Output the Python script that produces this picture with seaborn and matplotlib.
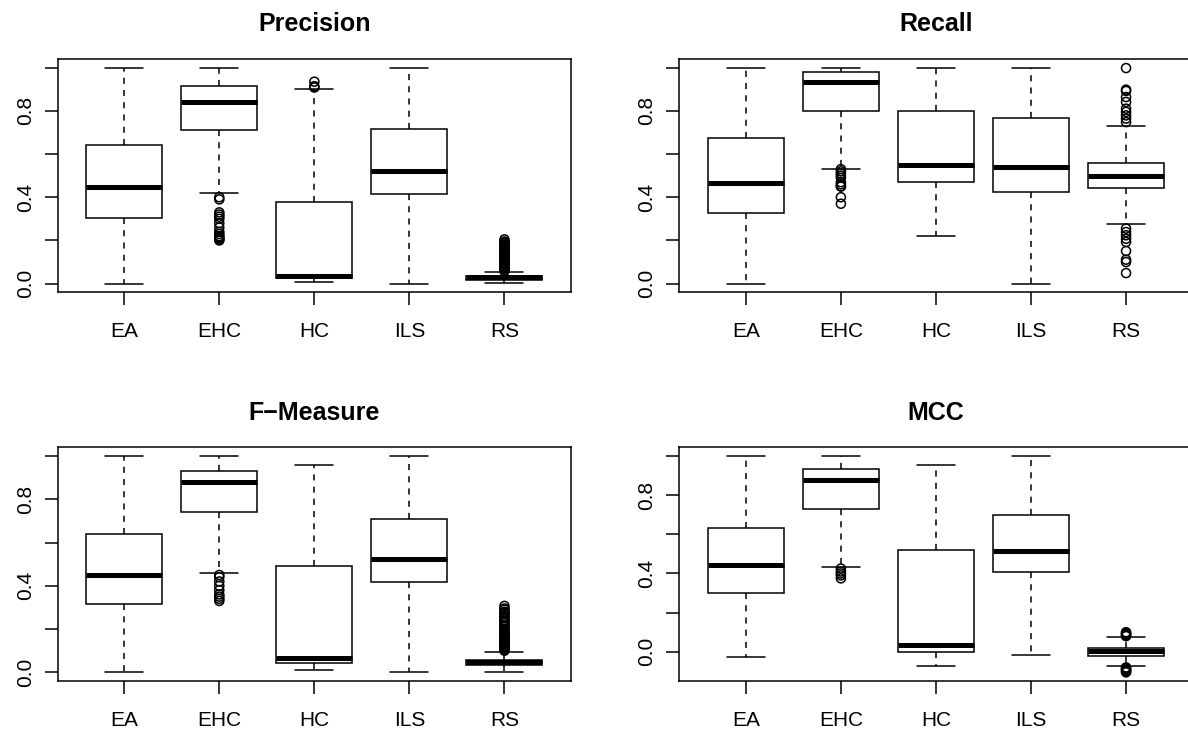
import numpy as np
import pandas as pd
import seaborn as sns
import matplotlib
matplotlib.use("Agg")
import matplotlib.pyplot as plt

# algorithms on the x axis
algos = ["EA", "EHC", "HC", "ILS", "RS"]

# five number summaries per algorithm: [lower whisker, Q1, median, Q3, upper whisker]
prec_stats = [[0.0, 0.305, 0.449, 0.640, 1.0],
              [0.421, 0.712, 0.840, 0.917, 1.0],
              [0.008, 0.025, 0.034, 0.377, 0.900],
              [0.0, 0.417, 0.522, 0.715, 1.0],
              [0.003, 0.018, 0.029, 0.037, 0.054]]
rec_stats = [[0.0, 0.327, 0.466, 0.676, 1.0],
             [0.532, 0.800, 0.934, 0.981, 1.0],
             [0.221, 0.471, 0.549, 0.800, 1.0],
             [0.0, 0.424, 0.540, 0.769, 1.0],
             [0.275, 0.443, 0.500, 0.559, 0.728]]
fm_stats = [[0.0, 0.318, 0.452, 0.639, 1.0],
            [0.457, 0.739, 0.881, 0.932, 1.0],
            [0.011, 0.043, 0.065, 0.491, 0.960],
            [0.0, 0.417, 0.526, 0.707, 1.0],
            [0.0, 0.034, 0.046, 0.059, 0.096]]
mcc_stats = [[-0.029, 0.299, 0.442, 0.633, 1.0],
             [0.432, 0.731, 0.878, 0.932, 1.0],
             [-0.071, -0.003, 0.034, 0.519, 0.952],
             [-0.014, 0.408, 0.517, 0.700, 1.0],
             [-0.075, -0.020, 0.003, 0.020, 0.075]]

# outliers
prec_out = {"EHC": [0.40, 0.39, 0.33, 0.32, 0.31, 0.30, 0.28, 0.26, 0.24, 0.23, 0.22, 0.215, 0.21, 0.205, 0.20],
            "HC": [0.935, 0.914, 0.908],
            "RS": [0.058, 0.063, 0.07, 0.075, 0.08, 0.086, 0.09, 0.095, 0.10, 0.106, 0.11, 0.115,
                   0.12, 0.125, 0.13, 0.136, 0.14, 0.145, 0.15, 0.156, 0.16, 0.165, 0.17,
                   0.175, 0.18, 0.186, 0.19, 0.195, 0.205]}
rec_out = {"EHC": [0.53, 0.52, 0.51, 0.50, 0.49, 0.47, 0.46, 0.45, 0.45, 0.40, 0.37],
           "RS": [0.998, 0.898, 0.892, 0.864, 0.841, 0.81, 0.795, 0.779, 0.764, 0.748,
                  0.255, 0.239, 0.224, 0.208, 0.193, 0.151, 0.111, 0.10, 0.049]}
fm_out = {"EHC": [0.45, 0.44, 0.42, 0.40, 0.38, 0.36, 0.35, 0.34, 0.33],
          "RS": [0.10, 0.105, 0.11, 0.116, 0.12, 0.125, 0.13, 0.136, 0.14, 0.145, 0.15,
                 0.156, 0.16, 0.165, 0.17, 0.176, 0.18, 0.185, 0.19, 0.196, 0.20, 0.21,
                 0.215, 0.22, 0.23, 0.235, 0.24, 0.25, 0.255, 0.26, 0.27, 0.275, 0.28,
                 0.29, 0.295, 0.307]}
mcc_out = {"EHC": [0.425, 0.41, 0.40, 0.39, 0.375],
           "RS": [0.08, 0.085, 0.09, 0.095, 0.10,
                  -0.08, -0.085, -0.09, -0.095, -0.10, -0.105]}

panels = [("Precision", prec_stats, prec_out),
          ("Recall", rec_stats, rec_out),
          ("F\u2212Measure", fm_stats, fm_out),
          ("MCC", mcc_stats, mcc_out)]

sns.set_theme(style="ticks")
plt.rcParams["font.family"] = ["Liberation Sans", "DejaVu Sans"]

W, H = 1188, 731
fig = plt.figure(figsize=(W / 100, H / 100), dpi=100)

# frame boxes in pixels (left, top, right, bottom)
frames = [(57.7, 59, 571, 292.3), (679.3, 59, 1192.6, 292.3),
          (57.7, 447.3, 571, 681), (679.3, 447.3, 1192.6, 681)]

for (title, stats, outs), (l, t, r, b) in zip(panels, frames):
    ax = fig.add_axes([l / W, 1 - b / H, (r - l) / W, (b - t) / H])

    box_df = pd.DataFrame({"algo": np.repeat(algos, 5),
                           "value": np.concatenate(stats)})
    sns.boxplot(data=box_df, x="algo", y="value", order=algos, ax=ax,
                whis=(0, 100), width=0.8, showfliers=False,
                color="white", linecolor="black", linewidth=1.1,
                medianprops=dict(linewidth=3.6, color="black", solid_capstyle="butt"),
                whiskerprops=dict(linestyle=(0, (4, 4)), linewidth=1.1),
                capprops=dict(linewidth=1.1))

    out_df = pd.DataFrame([(k, v) for k, vals in outs.items() for v in vals],
                          columns=["algo", "value"])
    sns.stripplot(data=out_df, x="algo", y="value", order=algos, ax=ax,
                  jitter=False, marker="o", size=6.5, color="black",
                  facecolor="none", edgecolor="black", linewidth=1.1, zorder=4)

    allv = np.concatenate([np.concatenate(stats), out_df["value"].values])
    lo, hi = allv.min(), allv.max()
    pad = 0.04 * (hi - lo)
    ax.set_ylim(lo - pad, hi + pad)
    ax.set_xlim(-0.7, 4.7)

    ax.set_yticks([0.0, 0.2, 0.4, 0.6, 0.8, 1.0])
    ax.set_yticklabels(["0.0", "", "0.4", "", "0.8", ""], rotation=90, va="center")
    ax.set_xticks(range(len(algos)))
    ax.set_xticklabels(algos)
    ax.tick_params(axis="both", direction="out", length=9.5, width=1.1,
                   color="black", labelsize=15, labelcolor="black")
    ax.tick_params(axis="x", pad=12)
    ax.tick_params(axis="y", pad=7)
    for s in ax.spines.values():
        s.set_visible(True)
        s.set_color("black")
        s.set_linewidth(1.1)
    ax.set_xlabel("")
    ax.set_ylabel("")
    ax.set_facecolor("white")
    ax.set_title(title, fontsize=18, fontweight="bold", color="black", pad=20)

fig.savefig("out.png", dpi=100, facecolor="white")
